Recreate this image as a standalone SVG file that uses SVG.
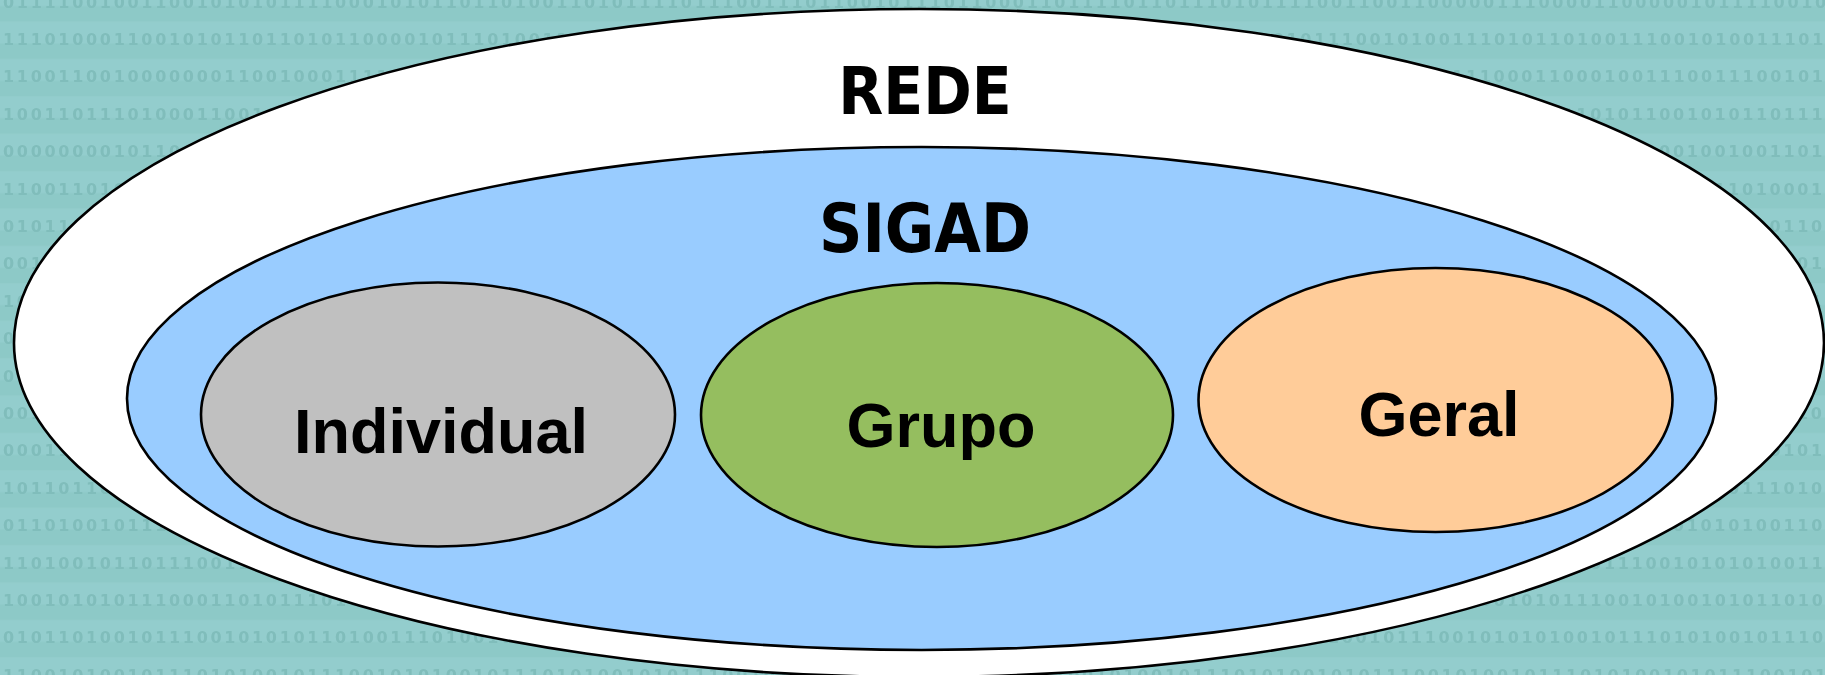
<svg xmlns="http://www.w3.org/2000/svg" width="1825" height="675" viewBox="0 0 1825 675">
  <defs>
    <pattern id="bands" x="0" y="7.5" width="1825" height="37.4" patternUnits="userSpaceOnUse">
      <rect x="0" y="0" width="1825" height="37.4" fill="#8dc9c7"/>
      <rect x="0" y="14" width="1825" height="22" fill="#93cdcd"/>
    </pattern>
    <filter id="soft" x="-1%" y="-50%" width="102%" height="200%">
      <feGaussianBlur stdDeviation="0.45"/>
    </filter>
  </defs>
  <style>
    .bits { font-family: "DejaVu Sans", "Liberation Sans", sans-serif; font-weight: bold; font-size: 16px; letter-spacing: 2.7px; fill: #80bdbb; }
    .ring { stroke: #000; stroke-width: 2.6; }
    .title { font-family: "DejaVu Sans Condensed", "DejaVu Sans", sans-serif; font-stretch: condensed; font-weight: bold; text-anchor: middle; fill: #000; }
    .label { font-family: "Liberation Sans", Arial, sans-serif; font-weight: bold; font-size: 63px; text-anchor: middle; fill: #000; }
  </style>

  <!-- binary backdrop: rows are split where the outer ring covers them -->
  <g id="backdrop">
    <rect x="0" y="0" width="1825" height="675" fill="url(#bands)"/>
    <g class="bits" filter="url(#soft)">
      <text x="3" y="7.5">011110010011001010101111000101011011010011010111101110011101100101110110001101111011011101011110011001100000111000011000001011110010</text>
      <text x="3" y="44.9">1110100011001010110110101100001011101001101</text>
      <text x="1231.2" y="44.9">0100101110010100111010110100111001010011101</text>
      <text x="3" y="82.3">110011001000000011001000111100</text>
      <text x="1424.4" y="82.3">00111000110001001110011100101</text>
      <text x="3" y="119.7">100110111010001100100</text>
      <text x="1534.8" y="119.7">101101011001010110111</text>
      <text x="3" y="157.1">000000001011001</text>
      <text x="1631.4" y="157.1">01001001001101</text>
      <text x="3" y="194.5">1100110100</text>
      <text x="1686.6" y="194.5">0111010001</text>
      <text x="3" y="231.9">0101110</text>
      <text x="1741.8" y="231.9">100110</text>
      <text x="3" y="269.3">0010</text>
      <text x="1769.4" y="269.3">1101</text>
      <text x="3" y="306.7">101</text>
      <text x="1797" y="306.7">01</text>
      <text x="3" y="344.1">00</text>
      <text x="1810.8" y="344.1">1</text>
      <text x="3" y="381.5">001</text>
      <text x="1797" y="381.5">10</text>
      <text x="3" y="418.9">0010</text>
      <text x="1783.2" y="418.9">010</text>
      <text x="3" y="456.3">000111</text>
      <text x="1755.6" y="456.3">10101</text>
      <text x="3" y="493.7">101101100</text>
      <text x="1700.4" y="493.7">010111010</text>
      <text x="3" y="531.1">01101001011110</text>
      <text x="1645.2" y="531.1">1001010100110</text>
      <text x="3" y="568.5">1101001011011100110</text>
      <text x="1562.4" y="568.5">0101110010101010011</text>
      <text x="3" y="605.9">100101010111000110101110100</text>
      <text x="1452" y="605.9">010010101110010100101011010</text>
      <text x="3" y="643.3">010110100101110010101011010011101001010</text>
      <text x="1300.2" y="643.3">10100101110010101010010111010100101110</text>
      <text x="3" y="680.7">110010100101110101001011100101010010111010100101011100101001011101010010101110010100101110101001010111001010010111010100101011100101</text>
    </g>
  </g>

  <!-- outer network ring -->
  <g id="rede">
    <ellipse class="ring" cx="919" cy="343" rx="905" ry="334" fill="#ffffff" stroke-width="3"/>
    <text class="title" x="925" y="114" font-size="65">REDE</text>
  </g>

  <!-- SIGAD layer -->
  <g id="sigad">
    <ellipse class="ring" cx="921.5" cy="398.5" rx="794.5" ry="251.5" fill="#99ccff"/>
    <text class="title" x="925" y="252" font-size="67">SIGAD</text>
  </g>

  <g id="individual">
    <ellipse class="ring" cx="438" cy="414.5" rx="237" ry="132" fill="#c0c0c0"/>
    <text class="label" x="441" y="453">Individual</text>
  </g>

  <g id="grupo">
    <ellipse class="ring" cx="937" cy="415" rx="236" ry="132" fill="#95be5f"/>
    <text class="label" x="941" y="447">Grupo</text>
  </g>

  <g id="geral">
    <ellipse class="ring" cx="1435.5" cy="400" rx="237" ry="132" fill="#ffcc99"/>
    <text class="label" x="1439" y="436">Geral</text>
  </g>
</svg>
